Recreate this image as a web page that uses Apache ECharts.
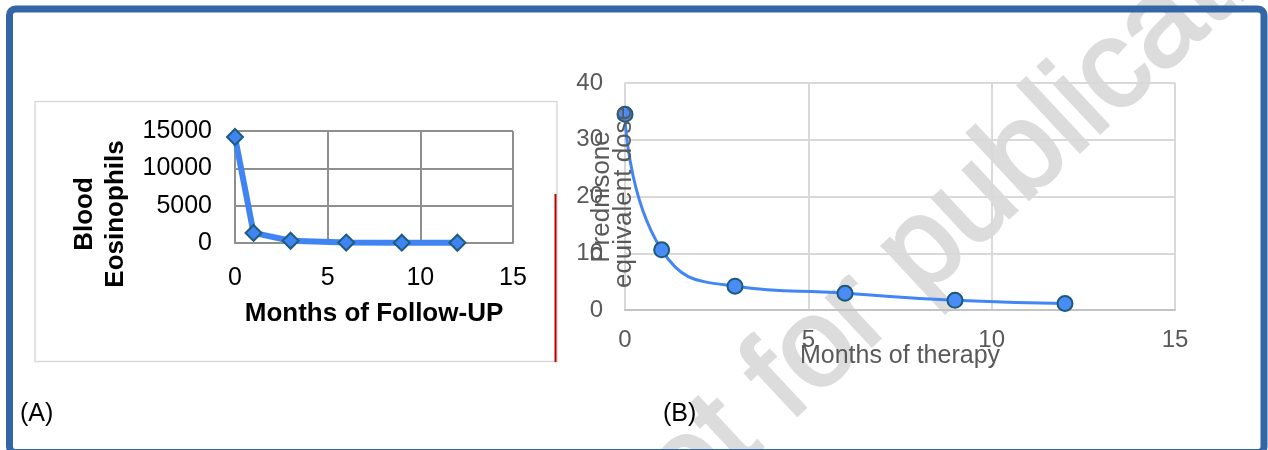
<!DOCTYPE html>
<html><head><meta charset="utf-8">
<script src="https://cdn.jsdelivr.net/npm/echarts@6/dist/echarts.min.js"></script>
<style>html,body{margin:0;padding:0;background:#fff}#c{width:1268px;height:450px}</style>
</head><body><div id="c"></div>
<script>
// ---- data ----
const monthsFollowUp = [0, 1, 3, 6, 9, 12];
const bloodEosinophils = [14200, 1350, 300, 60, 40, 30];
const monthsTherapy = [0, 1, 3, 6, 9, 12];
const prednisoneDose = [34.5, 10.6, 4.2, 2.95, 1.7, 1.15];
const xTicks = [0, 5, 10, 15];
const yTicksA = [0, 5000, 10000, 15000];
const yTicksB = [0, 10, 20, 30, 40];
const titleA = 'Months of Follow-UP';
const titleAY = ['Blood', 'Eosinophils'];
const titleB = 'Months of therapy';
const titleBY = ['Prednisone', 'equivalent dose'];
const panelLabels = ['(A)', '(B)'];
const watermark = 'Not for publication';

const F = '"Liberation Sans", Arial, sans-serif';
const step = a => a[1] - a[0];
const zip = (xs, ys) => xs.map((x, i) => [x, ys[i]]);
const plain = v => String(v);

const chart = echarts.init(document.getElementById('c'), null, {renderer: 'canvas'});
const gA = '#8f8f8f', gB = '#d9d9d9';
const wmAngle = 43 * Math.PI / 180;
chart.setOption({
  animation: false,
  backgroundColor: '#fff',
  grid: [
    {left: 235, top: 131, width: 278, height: 112},
    {left: 625, top: 83, width: 550, height: 227}
  ],
  xAxis: [
    {type: 'value', gridIndex: 0, min: xTicks[0], max: xTicks[xTicks.length-1], interval: step(xTicks),
     axisLine: {show: true, lineStyle: {color: gA, width: 2}}, axisTick: {show: false},
     splitLine: {show: true, lineStyle: {color: gA, width: 2}},
     axisLabel: {fontSize: 25, color: '#000', fontFamily: F, margin: 23, formatter: plain},
     name: titleA, nameLocation: 'middle', nameGap: 58, nameMoveOverlap: false,
     nameTextStyle: {fontSize: 26, fontWeight: 'bold', color: '#000', fontFamily: F}},
    {type: 'value', gridIndex: 1, min: xTicks[0], max: xTicks[xTicks.length-1], interval: step(xTicks),
     axisLine: {show: true, lineStyle: {color: '#c4c4c4', width: 2}}, axisTick: {show: false},
     splitLine: {show: true, lineStyle: {color: gB, width: 2}},
     axisLabel: {fontSize: 24, color: '#595959', fontFamily: F, margin: 18, formatter: plain},
     name: titleB, nameLocation: 'middle', nameGap: 34, nameMoveOverlap: false,
     nameTextStyle: {fontSize: 25, color: '#595959', fontFamily: F}}
  ],
  yAxis: [
    {type: 'value', gridIndex: 0, min: yTicksA[0], max: yTicksA[yTicksA.length-1], interval: step(yTicksA),
     axisLine: {show: true, lineStyle: {color: gA, width: 2}}, axisTick: {show: false},
     splitLine: {show: true, lineStyle: {color: gA, width: 2}},
     axisLabel: {fontSize: 25, color: '#000', fontFamily: F, margin: 23, formatter: plain}},
    {type: 'value', gridIndex: 1, min: yTicksB[0], max: yTicksB[yTicksB.length-1], interval: step(yTicksB),
     axisLine: {show: true, lineStyle: {color: gB, width: 2}}, axisTick: {show: false},
     splitLine: {show: true, lineStyle: {color: gB, width: 2}},
     axisLabel: {fontSize: 24, color: '#595959', fontFamily: F, margin: 22, formatter: plain}}
  ],
  series: [
    {type: 'line', xAxisIndex: 0, yAxisIndex: 0, data: zip(monthsFollowUp, bloodEosinophils),
     symbol: 'diamond', symbolSize: 16, z: 5,
     lineStyle: {color: '#3f84f2', width: 6},
     itemStyle: {color: '#3f84f2', borderColor: '#1d5d7c', borderWidth: 2}},
    {type: 'line', xAxisIndex: 1, yAxisIndex: 1, data: zip(monthsTherapy, prednisoneDose),
     smooth: 0.5, symbol: 'circle', symbolSize: 15, z: 5,
     lineStyle: {color: '#4285f4', width: 3},
     itemStyle: {color: '#4a8cf5', borderColor: '#1b5a78', borderWidth: 2}}
  ],
  graphic: [
    {type: 'text', z: -10, x: 598, y: 554, rotation: wmAngle, silent: true,
     style: {text: watermark, font: '125px ' + F, fill: '#dcdcdc', stroke: '#dcdcdc', lineWidth: 3,
             textAlign: 'left', textVerticalAlign: 'middle'}},
    {type: 'rect', z: 100, shape: {x: 9.5, y: 9, width: 1254.5, height: 443.5, r: 6},
     style: {fill: 'none', stroke: '#3465a7', lineWidth: 7}},
    {type: 'rect', z: 1, shape: {x: 35, y: 101.5, width: 522, height: 260},
     style: {fill: 'none', stroke: '#d9d9d9', lineWidth: 1.5}},
    {type: 'line', z: 1, shape: {x1: 555.5, y1: 194, x2: 555.5, y2: 362},
     style: {stroke: '#c00000', lineWidth: 2}},
    {type: 'text', z: 10, x: 20, y: 414,
     style: {text: panelLabels[0], font: '25px ' + F, fill: '#000', textAlign: 'left', textVerticalAlign: 'middle'}},
    {type: 'text', z: 10, x: 663, y: 414,
     style: {text: panelLabels[1], font: '25px ' + F, fill: '#000', textAlign: 'left', textVerticalAlign: 'middle'}},
    {type: 'text', z: 10, x: 85, y: 214, rotation: Math.PI / 2,
     style: {text: titleAY[0], font: 'bold 26px ' + F, fill: '#000', textAlign: 'center', textVerticalAlign: 'middle'}},
    {type: 'text', z: 10, x: 116, y: 214, rotation: Math.PI / 2,
     style: {text: titleAY[1], font: 'bold 26px ' + F, fill: '#000', textAlign: 'center', textVerticalAlign: 'middle'}},
    {type: 'text', z: 10, x: 602, y: 197, rotation: Math.PI / 2,
     style: {text: titleBY[0], font: '26px ' + F, fill: '#595959', textAlign: 'center', textVerticalAlign: 'middle'}},
    {type: 'text', z: 10, x: 624, y: 197, rotation: Math.PI / 2,
     style: {text: titleBY[1], font: '26px ' + F, fill: '#595959', textAlign: 'center', textVerticalAlign: 'middle'}}
  ]
});
</script></body></html>
